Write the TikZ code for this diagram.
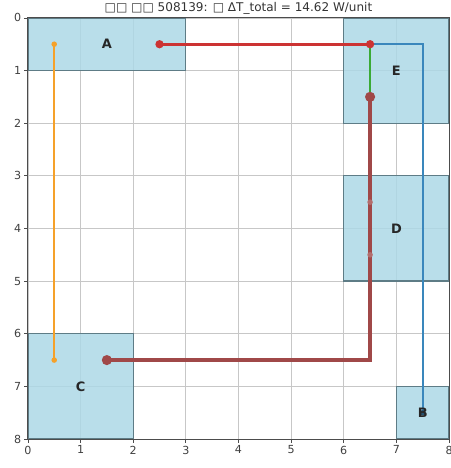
\documentclass[tikz,border=0pt]{standalone}
\usepackage{fontspec}
\setmainfont{DejaVu Sans}
\usetikzlibrary{positioning}

\definecolor{zonefill}{HTML}{ADD8E6}
\definecolor{zoneedge}{HTML}{5E7C86}
\definecolor{pathorange}{HTML}{F5A12A}
\definecolor{pathred}{HTML}{CC3333}
\definecolor{pathblue}{HTML}{3A87BC}
\definecolor{pathgreen}{HTML}{3AAA35}
\definecolor{pathbrown}{HTML}{A04848}

\begin{document}
\begin{tikzpicture}[x=1cm,y=-1cm,
  zone/.style={draw=zoneedge, fill=zonefill, fill opacity=0.85, line width=0.7pt},
  ticklbl/.style={font=\fontsize{6}{7}\selectfont, text=black!75, inner sep=1.5pt},
  zonelbl/.style={font=\fontsize{7}{8}\selectfont\bfseries, text=black!85},
  dot/.style={circle, inner sep=0pt, minimum size=#1},
  dot/.default=4pt]
  \useasboundingbox (-0.53,-0.34) rectangle (8.02,8.55);

  % Title
  \node[font=\fontsize{6.5}{7}\selectfont, text=black!80] (title) at (4,-0.19)
    {□□ □□ 508139: □ ΔT\_total = 14.62 W/unit};

  % Grid
  \draw[black!22, line width=0.4pt] (0,0) grid (8,8);

  % Zones
  \draw[zone] (0,0) rectangle (3,1);
  \draw[zone] (6,0) rectangle (8,2);
  \draw[zone] (6,3) rectangle (8,5);
  \draw[zone] (0,6) rectangle (2,8);
  \draw[zone] (7,7) rectangle (8,8);

  % Frame and ticks
  \draw[black!70, line width=0.5pt] (0,0) rectangle (8,8);
  \foreach \i in {0,...,8} {
    \draw[black!70, line width=0.4pt] (\i,8) -- ++(0,0.07);
    \draw[black!70, line width=0.4pt] (0,\i) -- ++(-0.07,0);
    \node[ticklbl, anchor=north] (xt\i) at (\i,8.07) {\i};
    \node[ticklbl, anchor=east] (yt\i) at (-0.07,\i) {\i};
  }

  % Route points
  \coordinate (o1) at (0.5,0.5);
  \coordinate (o2) at (0.5,6.5);
  \coordinate (r1) at (2.5,0.5);
  \coordinate (r2) at (6.5,0.5);
  \coordinate (b1) at (7.5,0.5);
  \coordinate (b2) at (7.5,7.5);
  \coordinate (g2) at (6.5,1.5);
  \coordinate (m1) at (6.5,3.5);
  \coordinate (m2) at (6.5,4.5);
  \coordinate (k1) at (6.5,6.5);
  \coordinate (k2) at (1.5,6.5);

  % Routes
  \draw[pathorange, line width=1pt] (o1) -- (o2);
  \node[dot=3pt, fill=pathorange] (od1) at (o1) {};
  \node[dot=3pt, fill=pathorange] (od2) at (o2) {};
  \draw[pathblue, line width=0.9pt] (r2) -- (b1) -- (b2);
  \node[dot=3pt, fill=pathblue!60!black] (bd2) at (b2) {};
  \draw[pathgreen, line width=1.1pt] (r2) -- (g2);
  \draw[pathbrown, line width=2.4pt, line join=miter] (g2) -- (k1) -- (k2);
  \node[dot=5.5pt, fill=pathbrown] (kd1) at (g2) {};
  \node[dot=5.5pt, fill=pathbrown] (kd2) at (k2) {};
  \node[dot=3pt, fill=pathbrown!80] (kd3) at (m1) {};
  \node[dot=3pt, fill=pathbrown!80] (kd4) at (m2) {};
  \draw[pathred, line width=1.6pt] (r1) -- (r2);
  \node[dot=4.5pt, fill=pathred] (rd1) at (r1) {};
  \node[dot=4.5pt, fill=pathred] (rd2) at (r2) {};

  % Zone labels
  \node[zonelbl] (lblA) at (1.5,0.5) {A};
  \node[zonelbl] (lblE) at (7,1) {E};
  \node[zonelbl] (lblD) at (7,4) {D};
  \node[zonelbl] (lblC) at (1,7) {C};
  \node[zonelbl] (lblB) at (7.5,7.5) {B};
\end{tikzpicture}
\end{document}
